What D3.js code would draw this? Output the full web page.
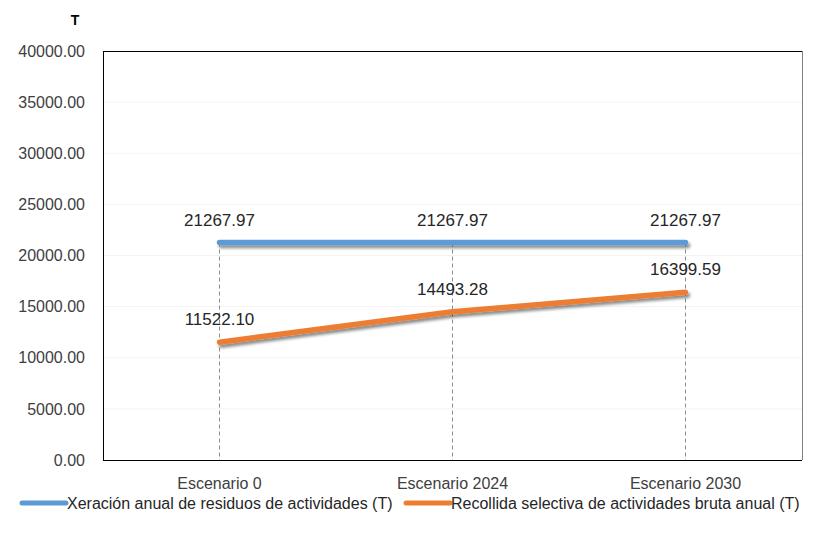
<!DOCTYPE html>
<html><head><meta charset="utf-8">
<script src="https://cdn.jsdelivr.net/npm/d3@7"></script>
<style>body{margin:0;background:#fff}svg{display:block}text{font-family:"Liberation Sans",Arial,sans-serif}</style>
</head><body>
<svg id="c" width="816" height="537"></svg>
<script>
const categories = ["Escenario 0", "Escenario 2024", "Escenario 2030"];
const seriesNames = ["Xeración anual de residuos de actividades (T)", "Recollida selectiva de actividades bruta anual (T)"];
const generation = [21267.97, 21267.97, 21267.97];
const collection = [11522.10, 14493.28, 16399.59];
const yTicks = [0, 5000, 10000, 15000, 20000, 25000, 30000, 35000, 40000];
const colors = ["#5b9bd5", "#ed7d31"];
const unitLabel = "T";

const svg = d3.select("#c");
const m = {l:103, t:51, r:802, b:460};
const x = d3.scaleBand().domain(categories).range([m.l, m.r]);
const y = d3.scaleLinear().domain([0, 40000]).range([m.b, m.t]);
const cx = d => x(d) + x.bandwidth()/2;

const defs = svg.append("defs");
const f = defs.append("filter").attr("id","sh").attr("filterUnits","userSpaceOnUse")
  .attr("x",0).attr("y",0).attr("width",816).attr("height",537);
f.append("feGaussianBlur").attr("in","SourceAlpha").attr("stdDeviation",1.5).attr("result","b");
f.append("feOffset").attr("in","b").attr("dx",2).attr("dy",2.5).attr("result","o");
f.append("feComponentTransfer").attr("in","o").attr("result","o2").append("feFuncA").attr("type","linear").attr("slope",0.45);
const mg = f.append("feMerge"); mg.append("feMergeNode").attr("in","o2"); mg.append("feMergeNode").attr("in","SourceGraphic");

// faint gridlines
svg.append("g").selectAll("line").data(yTicks.slice(1,-1)).join("line")
  .attr("x1", m.l).attr("x2", m.r).attr("y1", d=>y(d)).attr("y2", d=>y(d))
  .attr("stroke", "#f3f3f3").attr("stroke-width", 1);

// y axis labels
const yAxis = d3.axisLeft(y).tickValues(yTicks).tickFormat(d3.format(".2f")).tickSize(0).tickPadding(18);
const ya = svg.append("g").attr("transform", `translate(${m.l},0)`).call(yAxis);
ya.select(".domain").remove();
ya.selectAll("text").attr("font-size", 16).attr("fill", "#404040").attr("font-family", "Liberation Sans, Arial, sans-serif");

// x axis labels
const xAxis = d3.axisBottom(x).tickSize(0).tickPadding(18);
const xa = svg.append("g").attr("transform", `translate(0,${m.b})`).call(xAxis);
xa.select(".domain").remove();
xa.selectAll("text").attr("font-size", 16).attr("fill", "#404040").attr("font-family", "Liberation Sans, Arial, sans-serif");

// drop lines
const maxv = categories.map((c,i)=>Math.max(generation[i], collection[i]));
svg.append("g").selectAll("line").data(categories).join("line")
  .attr("x1", d=>cx(d)).attr("x2", d=>cx(d))
  .attr("y1", (d,i)=>y(maxv[i])).attr("y2", m.b)
  .attr("stroke", "#8c8c8c").attr("stroke-width", 1).attr("stroke-dasharray", "4,3");

// plot border
svg.append("line").attr("x1",m.l).attr("x2",m.r).attr("y1",m.t+0.5).attr("y2",m.t+0.5).attr("stroke","#000");
svg.append("line").attr("x1",m.l+0.5).attr("x2",m.l+0.5).attr("y1",m.t).attr("y2",m.b).attr("stroke","#000");
svg.append("line").attr("x1",m.l).attr("x2",m.r).attr("y1",m.b+0.5).attr("y2",m.b+0.5).attr("stroke","#000");
svg.append("line").attr("x1",m.r+0.5).attr("x2",m.r+0.5).attr("y1",m.t).attr("y2",m.b).attr("stroke","#808080");

// lines
const line = d3.line().x((d,i)=>cx(categories[i])).y(d=>y(d));
[generation, collection].forEach((s,k)=>{
  svg.append("path").datum(s).attr("d", line).attr("fill","none")
    .attr("stroke", colors[k]).attr("stroke-width", 5.5).attr("stroke-linecap","round")
    .attr("filter","url(#sh)");
});

// data labels
[generation, collection].forEach((s,k)=>{
  svg.append("g").selectAll("text").data(s).join("text")
    .attr("x", (d,i)=>cx(categories[i])).attr("y", d=>y(d)-17)
    .attr("text-anchor","middle").attr("font-size", 17).attr("fill","#262626")
    .text(d=>d3.format(".2f")(d));
});

// unit label
svg.append("text").attr("x", 75).attr("y", 25).attr("text-anchor","middle")
  .attr("font-size", 14).attr("font-weight","bold").attr("fill","#000").text(unitLabel);

// legend
const lg = svg.append("g");
const legX = [22, 406];
seriesNames.forEach((n,k)=>{
  lg.append("line").attr("x1", legX[k]).attr("x2", legX[k]+44).attr("y1", 503).attr("y2", 503)
    .attr("stroke", colors[k]).attr("stroke-width", 5).attr("stroke-linecap","round");
  lg.append("text").attr("x", legX[k]+45).attr("y", 509).attr("fill","#262626")
    .attr("font-size", 16).text(n);
});
</script>
</body></html>
